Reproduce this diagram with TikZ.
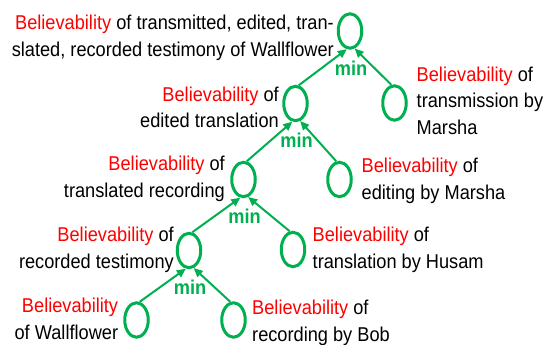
\documentclass[tikz,border=0pt]{standalone}
\usepackage{fontspec}
\setmainfont{Liberation Sans}[FakeStretch=0.91]
\usetikzlibrary{arrows.meta, positioning, shapes.geometric}
\definecolor{colGreen}{RGB}{0, 176, 80}
\definecolor{colRed}{RGB}{255, 0, 0}
\newcommand{\believ}{\textcolor{colRed}{Believability}}

\begin{document}
\begin{tikzpicture}[x=1pt, y=-1pt,
    every node/.style={font=\fontsize{20}{26.5}\selectfont, inner sep=0pt},
    belief/.style={ellipse, draw=colGreen, line width=3pt, minimum width=23.5pt, minimum height=34.5pt},
    edge/.style={draw=colGreen, line width=2pt, -{Triangle[length=9pt, width=8pt]}},
    minlabel/.style={text=colGreen, font=\fontsize{20}{22}\selectfont\bfseries, anchor=base},
    lblL/.style={anchor=north east, align=right},
    lblR/.style={anchor=north west, align=left}]
    \useasboundingbox (0, 0) rectangle (551, 345);

    % --- Ellipsen (Knoten des Baums) ---
    \node[belief] (bTop)      at (350, 31) {};
    \node[belief] (bEdit)     at (295.5, 103.5) {};
    \node[belief] (bTransmit) at (394.5, 103) {};
    \node[belief] (bTransl)   at (243.5, 179.5) {};
    \node[belief] (bEditing)  at (339.5, 179.5) {};
    \node[belief] (bRecord)   at (189, 250.5) {};
    \node[belief] (bHusam)    at (293, 249.5) {};
    \node[belief] (bWall)     at (136.5, 320) {};
    \node[belief] (bBob)      at (233.5, 320) {};

    % --- Beschriftungen ---
    \node[lblL] (tTop) at (334, 15) {\believ{} of transmitted, edited, tran-\\slated, recorded testimony of Wallflower};
    \node[lblR] (tTransmit) at (416.5, 66.5) {\believ{} of\\transmission by\\Marsha};
    \node[lblL] (tEdit) at (279, 86.5) {\believ{} of\\edited translation};
    \node[lblL] (tTransl) at (225, 156) {\believ{} of\\translated recording};
    \node[lblR] (tEditing) at (361.5, 158) {\believ{} of\\editing by Marsha};
    \node[lblL] (tRecord) at (174, 227.3) {\believ{} of\\recorded testimony};
    \node[lblR] (tHusam) at (312.5, 227.3) {\believ{} of\\translation by Husam};
    \node[lblL] (tWall) at (118.3, 298) {\believ\\of Wallflower};
    \node[lblR] (tBob) at (252, 300) {\believ{} of\\recording by Bob};

    % Pfeile und "min" je Ebene
    \foreach \p/\l/\r in {bTop/bEdit/bTransmit, bEdit/bTransl/bEditing, bTransl/bRecord/bHusam, bRecord/bWall/bBob} {
        \draw[edge] (\l.80) -- (\p.-100);
        \draw[edge] (\r.100) -- (\p.-75);
        \node[minlabel] (min\p) at ([xshift=1pt, yshift=-44pt]\p.center) {min};
    }

\end{tikzpicture}
\end{document}
